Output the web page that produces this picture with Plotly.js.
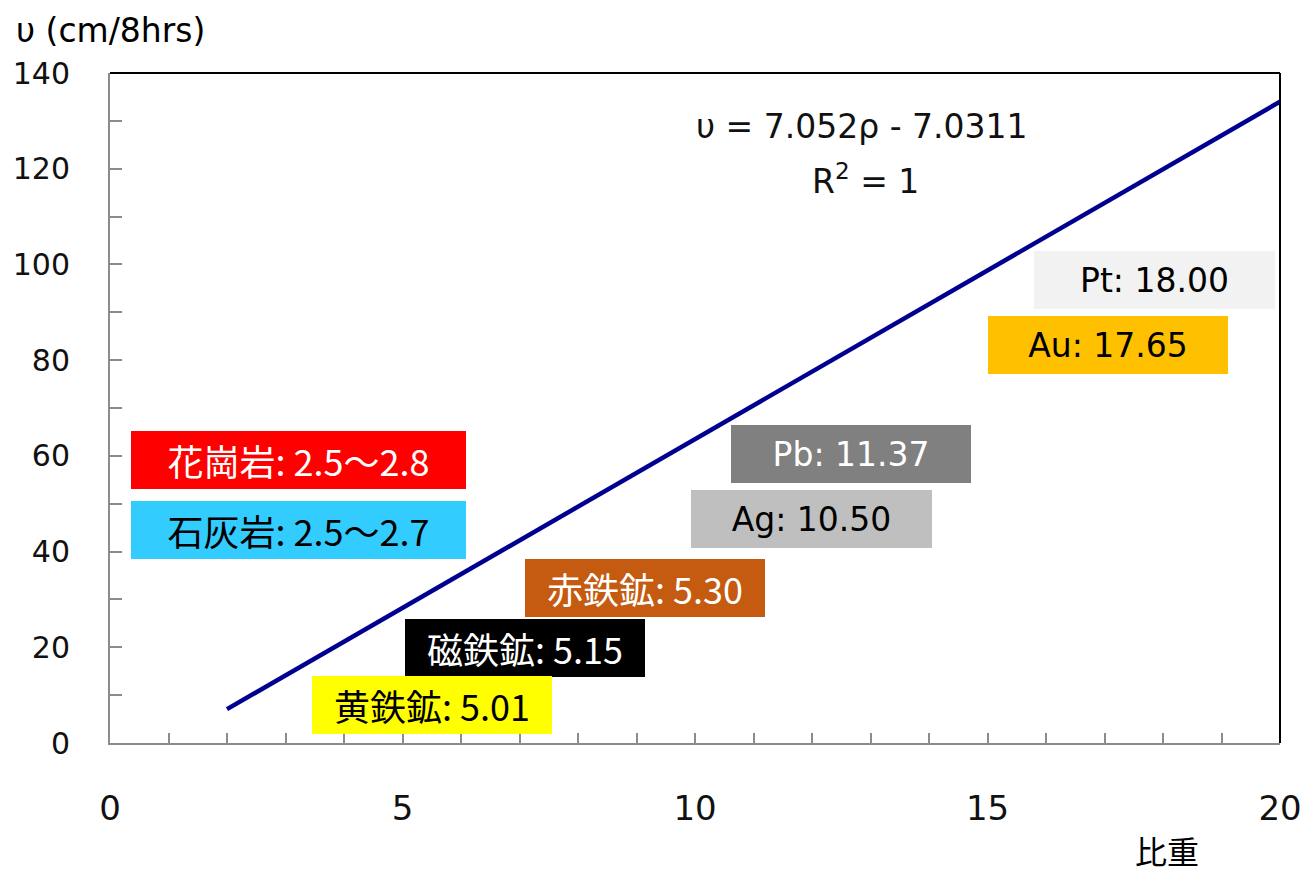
<!DOCTYPE html>
<html>
<head>
<meta charset="utf-8">
<script src="https://cdn.plot.ly/plotly-3.0.1.min.js"></script>
<style>
html,body{margin:0;padding:0;background:#fff;}
#chart{width:1312px;height:872px;}
</style>
</head>
<body>
<div id="chart"></div>
<script>
// Fitted line: specific gravity (比重) vs. velocity υ (cm/8hrs)
const fitX = [2, 20];
const fitY = [7.07, 134.01];

// Mineral / rock labels
const labelTexts = ['花崗岩: 2.5～2.8', '石灰岩: 2.5～2.7', '赤鉄鉱: 5.30', '磁鉄鉱: 5.15', '黄鉄鉱: 5.01',
                    'Pb: 11.37', 'Ag: 10.50', 'Pt: 18.00', 'Au: 17.65'];
const labelX = [3.22, 3.22, 9.15, 7.09, 5.50, 12.67, 11.99, 17.86, 17.06];
const labelY = [59.1, 44.5, 32.4, 19.85, 7.94, 60.4, 46.8, 96.8, 83.2];
const labelBg = ['#FF0000', '#33CCFF', '#C55A11', '#000000', '#FFFF00', '#808080', '#BFBFBF', '#F2F2F2', '#FFC000'];
const labelFg = ['#FFFFFF', '#000000', '#FFFFFF', '#FFFFFF', '#000000', '#FFFFFF', '#000000', '#000000', '#000000'];
const labelW = [335, 335, 240, 240, 240, 240, 241, 241, 240];

const equationText = 'υ = 7.052ρ - 7.0311';
const r2Text = 'R<sup>2</sup> = 1';
const yTitle = 'υ (cm/8hrs)';
const xTitle = '比重';

const jpFont = '"Noto Sans CJK JP", "Noto Sans", sans-serif';
const latFont = '"DejaVu Sans", sans-serif';

const annotations = labelTexts.map((t, i) => ({
  x: labelX[i], y: labelY[i], xref: 'x', yref: 'y',
  text: t, showarrow: false,
  bgcolor: labelBg[i], borderpad: 0, borderwidth: 0,
  width: labelW[i], height: 58, align: 'center', valign: 'middle',
  font: {family: i < 5 ? jpFont : latFont, size: i < 5 ? 36 : 33, color: labelFg[i]}
}));

const L = 110, R = 32, T = 73, B = 129, W = 1312, H = 872;
const pw = W - L - R, ph = H - T - B;
const px2paperX = v => (v - L) / pw;
const px2paperY = v => (H - B - v) / ph;

annotations.push(
  {x: 12.85, y: 128.8, xref: 'x', yref: 'y', text: equationText, showarrow: false,
   font: {family: latFont, size: 33, color: '#111'}},
  {x: 12.92, y: 117.8, xref: 'x', yref: 'y', text: r2Text, showarrow: false,
   font: {family: latFont, size: 33, color: '#111'}},
  {x: px2paperX(14), y: px2paperY(30), xref: 'paper', yref: 'paper', xanchor: 'left', yanchor: 'middle',
   text: yTitle, showarrow: false, font: {family: latFont, size: 33, color: '#000'}},
  {x: px2paperX(1167), y: px2paperY(850), xref: 'paper', yref: 'paper', xanchor: 'center', yanchor: 'middle',
   text: xTitle, showarrow: false, font: {family: jpFont, size: 32, color: '#000'}}
);

const data = [{
  x: fitX, y: fitY, type: 'scatter', mode: 'lines',
  line: {color: '#000090', width: 4.5},
  hoverinfo: 'skip', showlegend: false
}];

const layout = {
  width: W, height: H,
  margin: {l: L, r: R, t: T, b: B, pad: 0},
  paper_bgcolor: '#fff', plot_bgcolor: '#fff',
  showlegend: false,
  xaxis: {
    range: [0, 20], dtick: 5, tick0: 0,
    showgrid: false, zeroline: false,
    showline: true, linecolor: '#8c8c8c', linewidth: 2,
    ticks: 'inside', ticklen: 10, tickcolor: '#8c8c8c', tickwidth: 2,
    minor: {dtick: 1, ticks: 'inside', ticklen: 10, tickcolor: '#8c8c8c', tickwidth: 2},
    ticklabelstandoff: 34,
    tickfont: {family: latFont, size: 34, color: '#111'}
  },
  yaxis: {
    range: [0, 140], dtick: 20, tick0: 0,
    showgrid: false, zeroline: false,
    showline: true, linecolor: '#8c8c8c', linewidth: 2,
    ticks: 'inside', ticklen: 12, tickcolor: '#8c8c8c', tickwidth: 2,
    minor: {dtick: 10, ticks: 'inside', ticklen: 12, tickcolor: '#8c8c8c', tickwidth: 2},
    ticklabelstandoff: 32,
    tickfont: {family: latFont, size: 30, color: '#111'}
  },
  shapes: [
    {type: 'line', xref: 'paper', yref: 'paper', x0: 0, x1: 1, y0: 1, y1: 1, line: {color: '#000', width: 2}},
    {type: 'line', xref: 'paper', yref: 'paper', x0: 1, x1: 1, y0: 0, y1: 1, line: {color: '#000', width: 2}}
  ],
  annotations: annotations
};

Plotly.newPlot('chart', data, layout, {displayModeBar: false, staticPlot: true});
</script>
</body>
</html>
